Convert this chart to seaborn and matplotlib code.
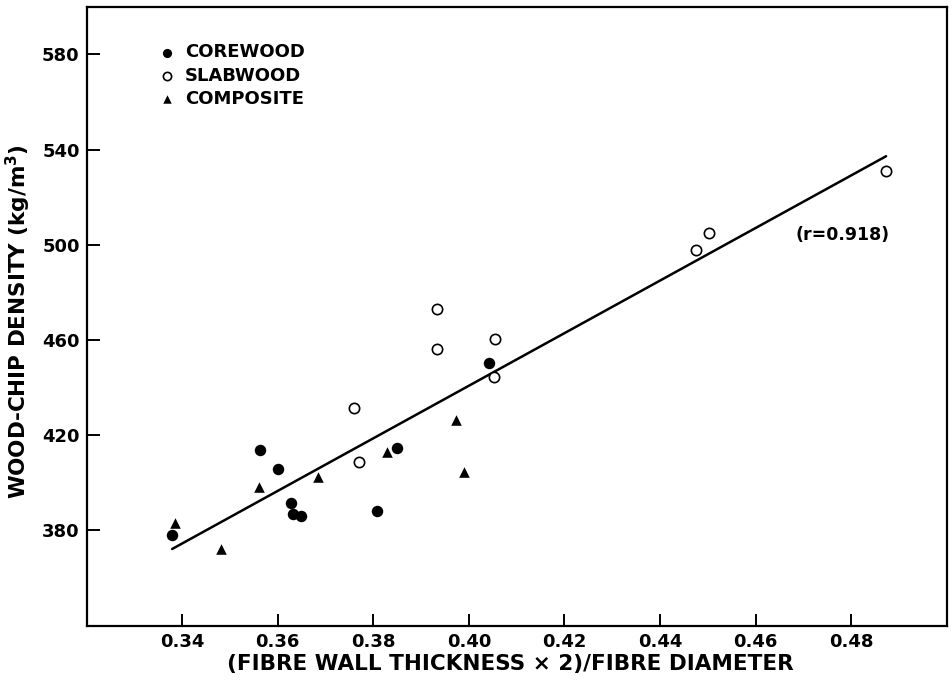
import numpy as np
import pandas as pd
import matplotlib
matplotlib.use("Agg")
import matplotlib.pyplot as plt
import seaborn as sns

# values
core_x = [0.3379, 0.3562, 0.3600, 0.3628, 0.3632, 0.3649, 0.3807, 0.3850, 0.4043]
core_y = [378.0, 413.7, 405.9, 391.7, 386.7, 386.0, 388.0, 414.5, 450.4]

slab_x = [0.3760, 0.3771, 0.3934, 0.3934, 0.4055, 0.4053, 0.4475, 0.4502, 0.4873]
slab_y = [431.6, 408.8, 473.0, 456.2, 460.5, 444.6, 497.9, 504.8, 531.2]

comp_x = [0.3385, 0.3482, 0.3560, 0.3684, 0.3829, 0.3973, 0.3990]
comp_y = [382.9, 372.3, 398.3, 402.6, 413.0, 426.2, 404.4]

x_ticks = [0.34, 0.36, 0.38, 0.40, 0.42, 0.44, 0.46, 0.48]
y_ticks = [380, 420, 460, 500, 540, 580]
r_text = "(r=0.918)"

sns.set_style("ticks")
plt.rcParams['font.family'] = ['DejaVu Sans']
plt.rcParams['font.weight'] = 'bold'
plt.rcParams['axes.linewidth'] = 1.6
plt.rcParams['text.color'] = 'black'
plt.rcParams['axes.labelcolor'] = 'black'
plt.rcParams['xtick.color'] = 'black'
plt.rcParams['ytick.color'] = 'black'

core = pd.DataFrame({'x': core_x, 'y': core_y})
slab = pd.DataFrame({'x': slab_x, 'y': slab_y})
comp = pd.DataFrame({'x': comp_x, 'y': comp_y})
allpts = pd.concat([core, slab, comp], ignore_index=True)

fig = plt.figure(figsize=(9.52, 6.8), dpi=100)
ax = fig.add_axes([0.091, 0.080, 0.9035, 0.910])

# fitted line through all samples
sns.regplot(data=allpts, x='x', y='y', scatter=False, ci=None, color='black',
            line_kws={'linewidth': 1.8}, ax=ax)

sns.scatterplot(data=core, x='x', y='y', marker='o', s=68, color='black',
                edgecolor='black', linewidth=0, label='COREWOOD', ax=ax, zorder=3)
sns.scatterplot(data=slab, x='x', y='y', marker='o', s=55, facecolor='white',
                edgecolor='black', linewidth=1.2, label='SLABWOOD', ax=ax, zorder=3)
sns.scatterplot(data=comp, x='x', y='y', marker='^', s=58, color='black',
                edgecolor='black', linewidth=0, label='COMPOSITE', ax=ax, zorder=3)

ax.set_xlim(0.32, 0.50)
ax.set_ylim(340, 600)
ax.set_xticks(x_ticks)
ax.set_xticklabels([f"{t:.2f}" for t in x_ticks])
ax.set_yticks(y_ticks)
ax.set_yticklabels([str(t) for t in y_ticks])
ax.tick_params(direction='in', length=9, width=1.4, labelsize=13, pad=5)

for sp in ax.spines.values():
    sp.set_visible(True)
    sp.set_color('black')

ax.set_xlabel("(FIBRE WALL THICKNESS \u00d7 2)/FIBRE DIAMETER", fontsize=15.5, fontweight='bold')
ax.set_ylabel(r"WOOD-CHIP DENSITY (kg/m$^{\mathbf{3}}$)", fontsize=15.5, fontweight='bold')
ax.xaxis.set_label_coords(0.493, -0.046)
ax.yaxis.set_label_coords(-0.062, 0.492)

ax.text(0.4782, 504.1, r_text, ha='center', va='center', fontsize=12.5, fontweight='bold')

leg = ax.legend(loc='upper left', bbox_to_anchor=(0.085, 0.941), frameon=False,
                fontsize=13, handlelength=0.8, handletextpad=0.6, labelspacing=0.3,
                borderpad=0, borderaxespad=0, markerscale=0.8)

fig.savefig('out.png', dpi=100)
